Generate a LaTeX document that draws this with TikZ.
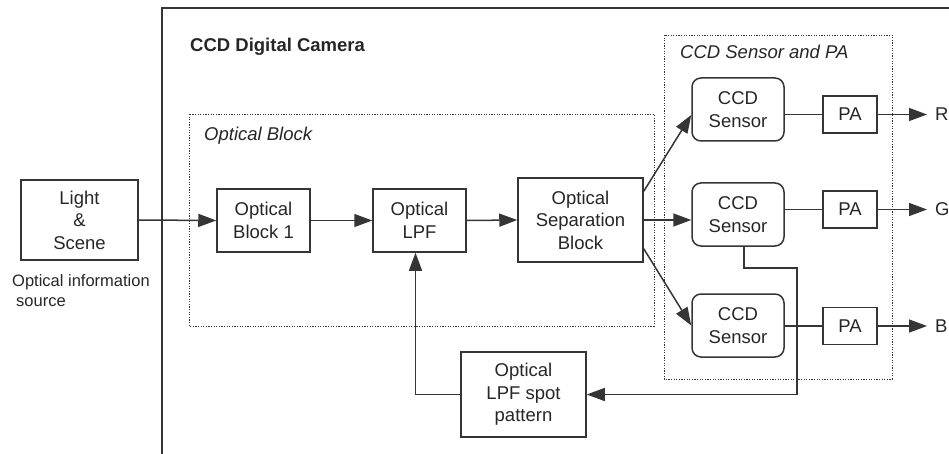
\documentclass[tikz,border=0pt]{standalone}
\usepackage{fontspec}
\setmainfont{Liberation Sans}
\usetikzlibrary{arrows.meta,calc}
\definecolor{ln}{HTML}{353535}
\definecolor{tx}{HTML}{262626}
\tikzset{
  blk/.style={draw=ln,line width=1.5pt,rectangle,inner sep=0pt,align=center,text=tx,font=\fontsize{18.5}{22.5}\selectfont},
  rblk/.style={blk,rounded corners=9pt},
  pabox/.style={blk},
  conn/.style={draw=ln,line width=1.5pt},
  arr/.style={conn,-{Triangle[length=18pt,width=13pt]}},
  dotbox/.style={draw=ln,line width=0.9pt,dash pattern=on 1.2pt off 1.4pt},
  lab/.style={text=tx,inner sep=0pt,anchor=base west},
}
\begin{document}
\begin{tikzpicture}[x=1pt,y=-1pt]
\useasboundingbox (0,0) rectangle (949,454);
% outer camera frame
\draw[conn] (162,454) -- (162,8) -- (949,8);
\node[lab,font=\fontsize{18.5}{22.5}\selectfont\bfseries] (title) at (190,52) {CCD Digital Camera};
% dotted groups
\draw[dotbox] (189,114) rectangle (654,326);
\node[lab,font=\fontsize{18.5}{22.5}\selectfont\itshape] (oblab) at (204,141) {Optical Block};
\draw[dotbox] (664,35) rectangle (892,379);
\node[lab,font=\fontsize{18.5}{22.5}\selectfont\itshape] (cplab) at (680,59) {CCD Sensor and PA};
% blocks
\node[blk,minimum width=117pt,minimum height=80pt] (light) at (79.5,220) {Light\\\&\\Scene};
\node[lab,font=\fontsize{16.5}{20}\selectfont,align=left,anchor=north west] (src) at (12,274) {Optical information\\\hspace{4pt}source};
\node[blk,minimum width=93pt,minimum height=63pt] (ob1) at (263.5,220.5) {Optical\\Block 1};
\node[blk,minimum width=93pt,minimum height=63pt] (lpf) at (419.5,220.5) {Optical\\LPF};
\node[blk,minimum width=125pt,minimum height=84pt] (sep) at (580.5,220) {Optical\\Separation\\Block};
\node[rblk,minimum width=92pt,minimum height=63pt] (s1) at (738,109.5) {CCD\\Sensor};
\node[rblk,minimum width=92pt,minimum height=63pt] (s2) at (738,214.5) {CCD\\Sensor};
\node[rblk,minimum width=92pt,minimum height=63pt] (s3) at (738,325.5) {CCD\\Sensor};
\node[pabox,minimum width=54pt,minimum height=37pt] (pa1) at (850,114.5) {PA};
\node[pabox,minimum width=54pt,minimum height=37pt] (pa2) at (850,209.5) {PA};
\node[pabox,minimum width=54pt,minimum height=37pt] (pa3) at (850,326) {PA};
\node[blk,minimum width=125pt,minimum height=85pt] (spot) at (523.5,394.5) {Optical\\LPF spot\\pattern};
% outputs
\node[text=tx,font=\fontsize{18.5}{22.5}\selectfont,anchor=west,inner sep=0pt] (R) at (935,114.5) {R};
\node[text=tx,font=\fontsize{18.5}{22.5}\selectfont,anchor=west,inner sep=0pt] (G) at (935,209.5) {G};
\node[text=tx,font=\fontsize{18.5}{22.5}\selectfont,anchor=west,inner sep=0pt] (B) at (935,326) {B};
% connectors
\draw[arr] (light.east) -- (ob1.west);
\draw[arr] (ob1.east) -- (lpf.west);
\draw[arr] (lpf.east) -- (sep.west);
\draw[arr] (sep.east) -- (s2.west |- sep.east);
\draw[arr] ([yshift=-14pt]sep.north east) -- ([yshift=-5.5pt]s1.west);
\draw[arr] ([yshift=14pt]sep.south east) -- (s3.west);
\draw[conn] (s1.east |- pa1.west) -- (pa1.west);
\draw[conn] (s2.east |- pa2.west) -- (pa2.west);
\draw[conn] (s3.east |- pa3.west) -- (pa3.west);
\draw[arr] (pa1.east) -- ([xshift=-8pt]R.west);
\draw[arr] (pa2.east) -- ([xshift=-8pt]G.west);
\draw[arr] (pa3.east) -- ([xshift=-8pt]B.west);
% feedback
\coordinate (fb1) at (744,268);
\coordinate (fb2) at (797,268);
\draw[arr] (s2.south -| fb1) -- (fb1) -- (fb2) |- (spot.east);
\draw[arr] (spot.west) -| ([xshift=-4pt]lpf.south);
\end{tikzpicture}
\end{document}
